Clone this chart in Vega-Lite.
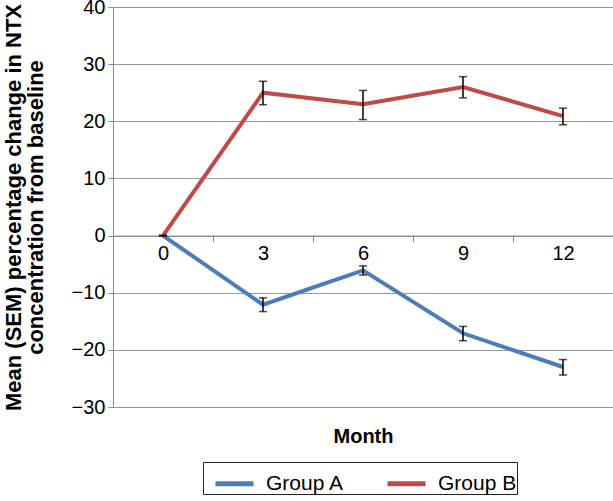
{
  "$schema": "https://vega.github.io/schema/vega-lite/v6.json",
  "width": 500,
  "height": 400,
  "autosize": {"type": "none"},
  "padding": {"left": 113, "top": 7, "right": 0, "bottom": 94},
  "background": "white",
  "config": {
    "font": "Liberation Sans",
    "view": {"stroke": null},
    "axis": {"labelFont": "Liberation Sans", "titleFont": "Liberation Sans"}
  },
  "data": {
    "values": [
      {"Month": 0, "Group": "Group A", "value": 0, "lo": 0, "hi": 0},
      {"Month": 3, "Group": "Group A", "value": -12.1, "lo": -13.3, "hi": -10.9},
      {"Month": 6, "Group": "Group A", "value": -6.1, "lo": -6.9, "hi": -5.3},
      {"Month": 9, "Group": "Group A", "value": -17.1, "lo": -18.4, "hi": -15.9},
      {"Month": 12, "Group": "Group A", "value": -23.0, "lo": -24.4, "hi": -21.7},
      {"Month": 0, "Group": "Group B", "value": 0, "lo": 0, "hi": 0},
      {"Month": 3, "Group": "Group B", "value": 25.0, "lo": 22.9, "hi": 27.0},
      {"Month": 6, "Group": "Group B", "value": 23.0, "lo": 20.3, "hi": 25.4},
      {"Month": 9, "Group": "Group B", "value": 26.0, "lo": 24.1, "hi": 27.8},
      {"Month": 12, "Group": "Group B", "value": 20.9, "lo": 19.4, "hi": 22.3}
    ]
  },
  "layer": [
    {
      "mark": {"type": "line", "strokeWidth": 4},
      "encoding": {
        "x": {
          "field": "Month", "type": "quantitative",
          "scale": {"domain": [-1.5, 13.5], "nice": false, "zero": false},
          "axis": {
            "orient": "bottom", "offset": -171.43,
            "values": [-1.5, 1.5, 4.5, 7.5, 10.5, 13.5],
            "labels": false, "ticks": true, "tickSize": 6, "tickColor": "#888888", "tickWidth": 1,
            "domain": true, "domainColor": "#888888", "domainWidth": 1,
            "grid": false, "title": null
          }
        },
        "y": {
          "field": "value", "type": "quantitative",
          "scale": {"domain": [-30, 40], "nice": false, "zero": false},
          "axis": {
            "orient": "left",
            "values": [-30, -20, -10, 0, 10, 20, 30, 40],
            "grid": true, "gridColor": "#999999", "gridWidth": 1,
            "domainColor": "#888888", "tickColor": "#888888", "tickSize": 5,
            "labelFontSize": 20, "labelColor": "black", "labelPadding": 3,
            "title": ["Mean (SEM) percentage change in NTX", "concentration from baseline"],
            "titleFontSize": 22, "titleFontWeight": "bold", "titleColor": "black",
            "titlePadding": 24, "titleLineHeight": 22
          }
        },
        "color": {
          "field": "Group", "type": "nominal",
          "scale": {"domain": ["Group A", "Group B"], "range": ["#4A7EBB", "#BE4B48"]},
          "legend": {
            "orient": "none", "legendX": 90, "legendY": 455,
            "direction": "horizontal", "title": null,
            "symbolType": "stroke", "symbolSize": 1444, "symbolStrokeWidth": 5,
            "labelFontSize": 21, "labelColor": "black", "labelOffset": 10,
            "columnPadding": 30, "padding": 0, "strokeColor": "#222222",
            "symbolOffset": 10
          }
        }
      }
    },
    {
      "mark": {"type": "errorbar", "ticks": {"size": 8}, "color": "black", "thickness": 1.5},
      "encoding": {
        "x": {"field": "Month", "type": "quantitative", "axis": null},
        "y": {"field": "lo", "type": "quantitative", "axis": null},
        "y2": {"field": "hi"}
      }
    },
    {
      "mark": {"type": "point", "opacity": 0},
      "encoding": {
        "x": {
          "field": "Month", "type": "quantitative",
          "axis": {
            "orient": "bottom", "offset": -171.43,
            "values": [0, 3, 6, 9, 12],
            "ticks": false, "domain": false, "grid": false,
            "labelFontSize": 20, "labelColor": "black", "labelPadding": 8,
            "title": null
          }
        },
        "y": {"field": "value", "type": "quantitative", "axis": null}
      }
    },
    {
      "mark": {"type": "point", "opacity": 0},
      "encoding": {
        "x": {
          "field": "Month", "type": "quantitative",
          "axis": {
            "orient": "bottom", "offset": 0,
            "ticks": false, "domain": false, "grid": false, "labels": false,
            "title": "Month", "titleFontSize": 20, "titleFontWeight": "bold",
            "titleColor": "black", "titlePadding": 19
          }
        },
        "y": {"field": "value", "type": "quantitative", "axis": null}
      }
    }
  ],
  "resolve": {"axis": {"x": "independent", "y": "independent"}}
}
